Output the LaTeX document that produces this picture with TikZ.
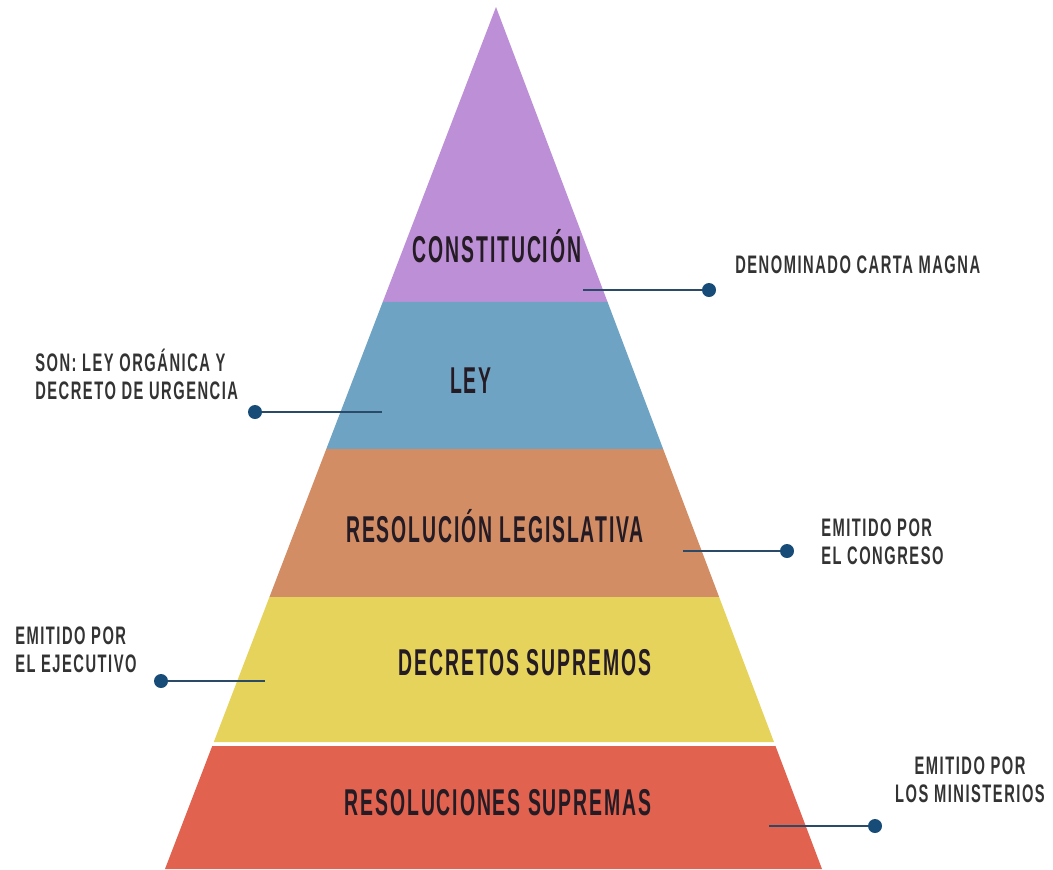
\documentclass[tikz,border=0pt]{standalone}
\usepackage{fontspec}
\usepackage{xcolor}
\usetikzlibrary{calc, positioning}
\newfontfamily\pyrfont{Liberation Sans}[FakeStretch=0.52, LetterSpace=5]
\newfontfamily\notefont{Liberation Sans}[FakeStretch=0.58, LetterSpace=6]
\definecolor{bandpurple}{HTML}{BD8FD6}
\definecolor{bandblue}{HTML}{6FA3C3}
\definecolor{bandorange}{HTML}{D28D64}
\definecolor{bandyellow}{HTML}{E6D35C}
\definecolor{bandred}{HTML}{E0624F}
\definecolor{linknavy}{HTML}{2A4A68}
\definecolor{dotnavy}{HTML}{174C78}
\definecolor{inktext}{HTML}{241B24}
\definecolor{greytext}{HTML}{333333}
\tikzset{
  level/.style = {font = \pyrfont\bfseries\fontsize{28}{28}\selectfont, text = inktext, inner sep = 0pt},
  note/.style = {font = \notefont\bfseries\fontsize{19}{21}\selectfont, text = greytext, inner sep = 0pt, align = left},
  link/.style = {draw = linknavy, line width = 1.5pt},
  dot/.style = {circle, fill = dotnavy, minimum size = 10.5pt, inner sep = 0pt}
}

\begin{document}
\begin{tikzpicture}[x = 0.75pt, y = -0.75pt]
	\useasboundingbox (0, 0) rectangle (1053, 869);
	\coordinate (apex) at (496, 7);
	\coordinate (bl) at (165, 869);
	\coordinate (br) at (822, 869);

	% bands of the pyramid
	\foreach \ta/\tb/\col in {0/0.3422/bandpurple, 0.3422/0.5128/bandblue, 0.5128/0.6845/bandorange, 0.6845/0.8527/bandyellow, 0.8573/1/bandred}
		\fill [\col] ($(apex)!\ta!(bl)$) -- ($(apex)!\tb!(bl)$) -- ($(apex)!\tb!(br)$) -- ($(apex)!\ta!(br)$) -- cycle;

	\node [level] (constitucion) at (497, 246) {CONSTITUCIÓN};
	\node [level] (ley) at (471, 381) {LEY};
	\node [level] (legislativa) at (495, 526) {RESOLUCIÓN LEGISLATIVA};
	\node [level] (decretos) at (525, 663) {DECRETOS SUPREMOS};
	\node [level] (resoluciones) at (498, 803) {RESOLUCIONES SUPREMAS};

	% notes and their links
	\node [note, anchor = west] (magna) at (735, 265) {DENOMINADO CARTA MAGNA};
	\coordinate (magnaend) at (583, 290);
	\node [dot] (magnadot) at (709, 290) {};
	\draw [link] (magnaend) -- (magnadot);

	\node [note, anchor = west] (organica) at (35, 374) {SON: LEY ORGÁNICA Y\\DECRETO DE URGENCIA};
	\coordinate (organicaend) at (382, 412);
	\node [dot] (organicadot) at (255, 412) {};
	\draw [link] (organicadot) -- (organicaend);

	\node [note, anchor = west] (congreso) at (821, 542) {EMITIDO POR\\EL CONGRESO};
	\coordinate (congresoend) at (683, 551);
	\node [dot] (congresodot) at (787, 551) {};
	\draw [link] (congresoend) -- (congresodot);

	\node [note, anchor = west] (ejecutivo) at (15, 650) {EMITIDO POR\\EL EJECUTIVO};
	\coordinate (ejecutivoend) at (265, 681);
	\node [dot] (ejecutivodot) at (161, 681) {};
	\draw [link] (ejecutivodot) -- (ejecutivoend);

	\node [note, align = center] (ministerios) at (970, 780) {EMITIDO POR\\LOS MINISTERIOS};
	\coordinate (ministeriosend) at (769, 826);
	\node [dot] (ministeriosdot) at (875, 826) {};
	\draw [link] (ministeriosend) -- (ministeriosdot);
\end{tikzpicture}
\end{document}
